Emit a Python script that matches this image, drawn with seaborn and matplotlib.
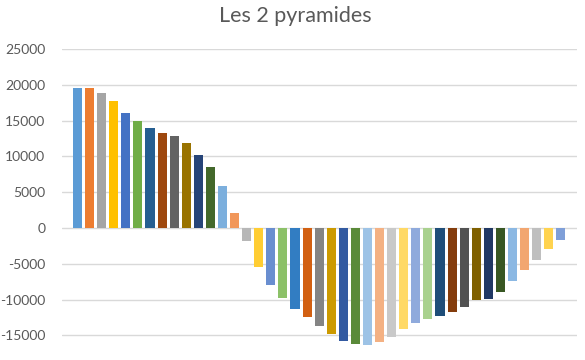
import pandas as pd
import matplotlib
matplotlib.use("Agg")
import matplotlib.pyplot as plt
import seaborn as sns

# Values (one bar per category)
categories = [str(i) for i in range(1, 42)]
values = [
    19600, 19600, 18900, 17700, 16100, 15000, 13900, 13300, 12900, 11800,
    10200, 8500, 5900, 2100, -1800, -5400, -8000, -9800, -11300, -12400,
    -13700, -14800, -15800, -16200, -16300, -15900, -15200, -14100, -13300, -12700,
    -12300, -11700, -11000, -10100, -9900, -8900, -7400, -5800, -4500, -3000,
    -1700,
]
y_ticks = [-15000, -10000, -5000, 0, 5000, 10000, 15000, 20000, 25000]

# Excel "vary colours by point" palette
colors = [
    "#5B9BD5", "#ED7D31", "#A5A5A5", "#FFC000", "#4472C4", "#70AD47",
    "#255E91", "#9E480E", "#636363", "#997300", "#264478", "#43682B",
    "#7CAFDD", "#F1975A", "#B7B7B7", "#FFCD33", "#698ED0", "#8CC168",
    "#327DC2", "#D26012", "#848484", "#CC9A00", "#335AA1", "#5A8A39",
    "#9DC3E6", "#F4B183", "#C9C9C9", "#FFD966", "#8FAADC", "#A9D18E",
    "#1F4E79", "#843C0C", "#525252", "#7F6000", "#203864", "#385723",
    "#8BB8E3", "#F2A670", "#BFBFBF", "#FFD34F", "#7F9FD8",
]

df = pd.DataFrame({"cat": categories, "val": values})

sns.set_theme(style="white")
plt.rcParams["font.family"] = ["Lato", "DejaVu Sans"]

fig = plt.figure(figsize=(5.85, 3.6), dpi=100)
ax = fig.add_axes([0.106, 0.0, 0.880, 0.864])

sns.barplot(data=df, x="cat", y="val", hue="cat", palette=colors,
            legend=False, width=0.75, saturation=1, linewidth=0,
            ax=ax, zorder=3)

ax.set_xlim(-1.28, 41.32)
ax.set_ylim(-18436, 25000)
ax.set_yticks(y_ticks)
ax.set_yticklabels([str(v) for v in y_ticks], fontsize=10, color="#595959")
ax.set_xticks([])
ax.set_xlabel("")
ax.set_ylabel("")
ax.tick_params(axis="y", length=0, pad=12)
ax.grid(axis="y", color="#D9D9D9", linewidth=1, zorder=0)
for s in ax.spines.values():
    s.set_visible(False)

fig.text(0.505, 0.955, "Les 2 pyramides", ha="center", va="center",
         fontsize=15.5, color="#595959")

fig.savefig("out.png", dpi=100, facecolor="white")
